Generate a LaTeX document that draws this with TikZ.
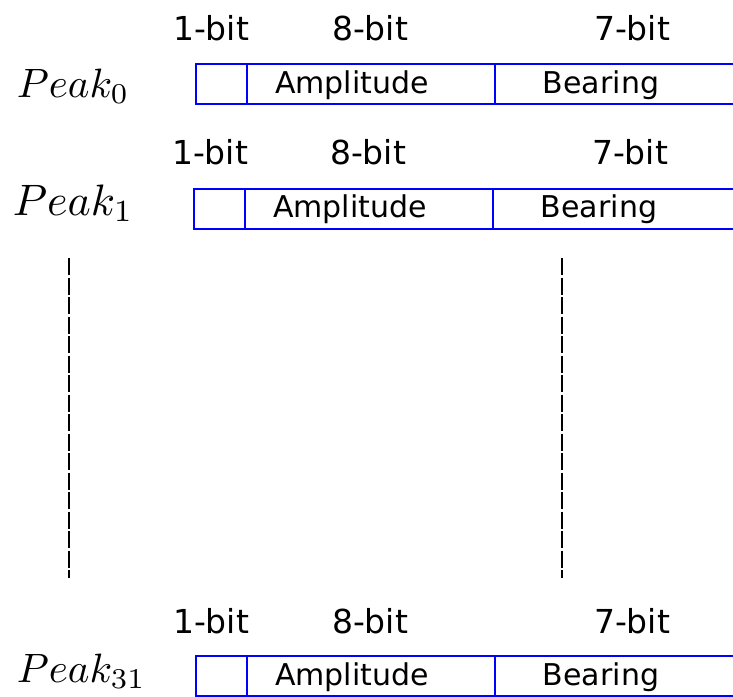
\documentclass[tikz,border=0pt]{standalone}
\usepackage{fontspec}
\newfontfamily\labelfont{DejaVu Sans}
\definecolor{fieldblue}{RGB}{0,0,255}
\tikzset{
  cellbox/.style={draw=fieldblue,line width=2pt,minimum height=40pt,inner sep=0pt,anchor=north west},
  bitlabel/.style={font=\labelfont\fontsize{33}{40}\selectfont,anchor=base,inner sep=0pt},
  fieldlabel/.style={font=\labelfont\fontsize{30}{36}\selectfont,anchor=base,inner sep=0pt},
  peaklabel/.style={anchor=base west,inner sep=0pt},
  gapline/.style={line width=1.5pt,dash pattern=on 17pt off 2.5pt}
}
\begin{document}
\begin{tikzpicture}[x=1pt,y=-1pt]
  \useasboundingbox (0,0) rectangle (733,696);
  \clip (0,0) rectangle (733,696);
  % peak 0
  \node[peaklabel,scale=4.1] (peak0) at (16,97) {$Peak_0$};
  \node[cellbox,minimum width=51pt] (flag0) at (195,63) {};
  \node[cellbox,minimum width=248pt] (amp0) at (246,63) {};
  \node[cellbox,minimum width=266pt] (bear0) at (494,63) {};
  \node[bitlabel] (flagbits0) at (211,40) {1-bit};
  \node[bitlabel] (ampbits0) at (370,40) {8-bit};
  \node[bitlabel] (bearbits0) at (632,40) {7-bit};
  \node[fieldlabel] (amptext0) at (352,93) {Amplitude};
  \node[fieldlabel] (beartext0) at (601,93) {Bearing};
  % peak 1
  \node[peaklabel,scale=4.4] (peak1) at (12,215) {$Peak_1$};
  \node[cellbox,minimum width=51pt] (flag1) at (193,188) {};
  \node[cellbox,minimum width=248pt] (amp1) at (244,188) {};
  \node[cellbox,minimum width=268pt] (bear1) at (492,188) {};
  \node[bitlabel] (flagbits1) at (210,164) {1-bit};
  \node[bitlabel] (ampbits1) at (368,164) {8-bit};
  \node[bitlabel] (bearbits1) at (630,164) {7-bit};
  \node[fieldlabel] (amptext1) at (350,217) {Amplitude};
  \node[fieldlabel] (beartext1) at (599,217) {Bearing};
  % the rows left out
  \coordinate (gapLtop) at (69,258);
  \coordinate (gapLbot) at (69,578);
  \coordinate (gapRtop) at (562,258);
  \coordinate (gapRbot) at (562,578);
  \draw[gapline] (gapLtop) -- (gapLbot);
  \draw[gapline] (gapRtop) -- (gapRbot);
  % peak 31
  \node[peaklabel,scale=4.1] (peak31) at (16,682) {$Peak_{31}$};
  \node[cellbox,minimum width=51pt] (flag31) at (195,655) {};
  \node[cellbox,minimum width=248pt] (amp31) at (246,655) {};
  \node[cellbox,minimum width=266pt] (bear31) at (494,655) {};
  \node[bitlabel] (flagbits31) at (211,633) {1-bit};
  \node[bitlabel] (ampbits31) at (370,633) {8-bit};
  \node[bitlabel] (bearbits31) at (632,633) {7-bit};
  \node[fieldlabel] (amptext31) at (352,685) {Amplitude};
  \node[fieldlabel] (beartext31) at (601,685) {Bearing};
\end{tikzpicture}
\end{document}
